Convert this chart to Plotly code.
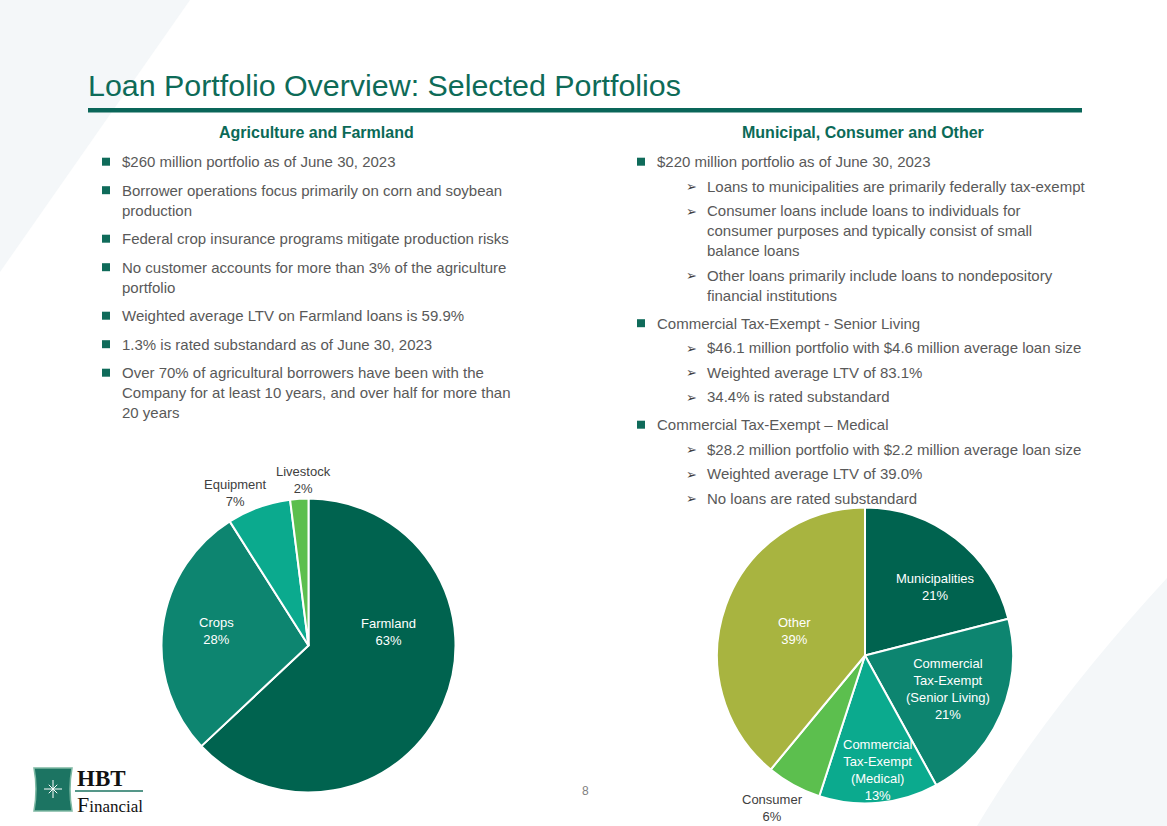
import plotly.graph_objects as go
import math

W, H = 1167, 826

# ---------------- data ----------------
title_text = "Loan Portfolio Overview: Selected Portfolios"

ag_heading = "Agriculture and Farmland"
ag_bullets = [
    ["$260 million portfolio as of June 30, 2023"],
    ["Borrower operations focus primarily on corn and soybean", "production"],
    ["Federal crop insurance programs mitigate production risks"],
    ["No customer accounts for more than 3% of the agriculture", "portfolio"],
    ["Weighted average LTV on Farmland loans is 59.9%"],
    ["1.3% is rated substandard as of June 30, 2023"],
    ["Over 70% of agricultural borrowers have been with the",
     "Company for at least 10 years, and over half for more than", "20 years"],
]

mun_heading = "Municipal, Consumer and Other"
mun_levels = [1, 2, 2, 2, 1, 2, 2, 2, 1, 2, 2, 2]
mun_bullets = [
    ["$220 million portfolio as of June 30, 2023"],
    ["Loans to municipalities are primarily federally tax-exempt"],
    ["Consumer loans include loans to individuals for",
     "consumer purposes and typically consist of small", "balance loans"],
    ["Other loans primarily include loans to nondepository", "financial institutions"],
    ["Commercial Tax-Exempt - Senior Living"],
    ["$46.1 million portfolio with $4.6 million average loan size"],
    ["Weighted average LTV of 83.1%"],
    ["34.4% is rated substandard"],
    ["Commercial Tax-Exempt \u2013 Medical"],
    ["$28.2 million portfolio with $2.2 million average loan size"],
    ["Weighted average LTV of 39.0%"],
    ["No loans are rated substandard"],
]

ag_labels = ["Farmland", "Crops", "Equipment", "Livestock"]
ag_values = [63, 28, 7, 2]
ag_colors = ["#00634F", "#0D8570", "#0BAA8E", "#5CBF4E"]

mun_labels = ["Municipalities", "Commercial<br>Tax-Exempt<br>(Senior Living)",
              "Commercial<br>Tax-Exempt<br>(Medical)", "Consumer", "Other"]
mun_values = [21, 21, 13, 6, 39]
mun_colors = ["#00634F", "#0D8570", "#0BAA8E", "#5CBF4E", "#A8B440"]

page_number = "8"

# ---------------- layout helpers ----------------
def px(x):
    return x / W

def py(y):
    return 1 - y / H

FONT = "Arial, Liberation Sans, Helvetica, sans-serif"
TEAL = "#0B6A57"
GRAY = "#595959"

fig = go.Figure()
shapes = []
annotations = []

def add_line(text, x, y, size=15, color=GRAY, anchor="left"):
    annotations.append(dict(text=text, x=px(x), y=py(y), xref="paper", yref="paper",
                            xanchor=anchor, yanchor="middle", showarrow=False,
                            font=dict(family=FONT, size=size, color=color)))

# label placement (pixel centres) and colour per slice: inside labels white, outside dark grey
ag_label_pos = [(388, 631.5, "white"), (216, 631, "white"), (235, 493, "#404040"), (303, 480, "#404040")]
mun_label_pos = [(935, 586.5, "white"), (948, 689, "white"), (877, 770, "white"),
                 (772, 807.5, "#404040"), (794, 631, "white")]

def add_pie(labels, values, colors, label_pos, cx, cy, r):
    fig.add_trace(go.Pie(
        labels=[l.replace("<br>", " ") for l in labels],
        values=values,
        textinfo="none",
        marker=dict(colors=colors, line=dict(color="white", width=2)),
        sort=False,
        direction="clockwise",
        rotation=0,
        showlegend=False,
        hoverinfo="label+percent",
        domain=dict(x=[px(cx - r), px(cx + r)], y=[py(cy + r), py(cy - r)]),
    ))
    total = sum(values)
    for l, v, (lx, ly, c) in zip(labels, values, label_pos):
        pct = round(100 * v / total)
        add_line(f"{l}<br>{pct}%", lx, ly, size=13, color=c, anchor="center")

add_pie(ag_labels, ag_values, ag_colors, ag_label_pos, 308.5, 645.5, 147)
add_pie(mun_labels, mun_values, mun_colors, mun_label_pos, 865, 655.5, 148)

# background decorations
shapes.append(dict(type="path", xref="paper", yref="paper",
                   path=f"M {px(0)},{py(0)} L {px(190)},{py(0)} L {px(0)},{py(272)} Z",
                   fillcolor="#F4F7F9", line=dict(width=0), layer="below"))
shapes.append(dict(type="path", xref="paper", yref="paper",
                   path=(f"M {px(1167)},{py(578)} L {px(1147)},{py(600)} "
                         f"Q {px(1040)},{py(720)} {px(977)},{py(826)} "
                         f"L {px(1167)},{py(826)} Z"),
                   fillcolor="#F4F7F9", line=dict(width=0), layer="below"))

# title + rule
annotations.append(dict(text=title_text, x=px(86), y=py(85), xref="paper", yref="paper",
                        xanchor="left", yanchor="middle", showarrow=False,
                        font=dict(family=FONT, size=30.4, color="#0E6B58")))
shapes.append(dict(type="rect", xref="paper", yref="paper",
                   x0=px(88), x1=px(1082), y0=py(108), y1=py(112.5),
                   fillcolor="#0A6659", line=dict(width=0)))

# column headings
annotations.append(dict(text=f"<b>{ag_heading}</b>", x=px(316), y=py(132), xref="paper", yref="paper",
                        xanchor="center", yanchor="middle", showarrow=False,
                        font=dict(family=FONT, size=16, color=TEAL)))
annotations.append(dict(text=f"<b>{mun_heading}</b>", x=px(863), y=py(132), xref="paper", yref="paper",
                        xanchor="center", yanchor="middle", showarrow=False,
                        font=dict(family=FONT, size=16, color=TEAL)))

def add_square(x, y):
    s = 4
    shapes.append(dict(type="rect", xref="paper", yref="paper",
                       x0=px(x - s), x1=px(x + s), y0=py(y + s), y1=py(y - s),
                       fillcolor="#0F6B5A", line=dict(width=0)))

# left column
y = 161.7
for i, lines in enumerate(ag_bullets):
    if i > 0:
        y += 28.5
    add_square(106, y)
    for j, ln in enumerate(lines):
        if j > 0:
            y += 20
        add_line(ln, 120, y)

# right column
y = 161.7
for i, (lvl, lines) in enumerate(zip(mun_levels, mun_bullets)):
    if i > 0:
        y += 28 if lvl == 1 else 24.5
    if lvl == 1:
        add_square(641, y)
        tx = 655
    else:
        add_line("\u27A2", 691, y + 0.5, size=13, color="#404040", anchor="center")
        tx = 705
    for j, ln in enumerate(lines):
        if j > 0:
            y += 20
        add_line(ln, tx, y)

# page number
add_line(page_number, 585, 791, size=12, color="#7F7F7F", anchor="center")

# logo
shapes.append(dict(type="path", xref="paper", yref="paper",
                   path=(f"M {px(34)},{py(768)} L {px(72)},{py(768)} "
                         f"Q {px(68)},{py(789)} {px(72)},{py(811)} "
                         f"L {px(34)},{py(811)} Q {px(38)},{py(789)} {px(34)},{py(768)} Z"),
                   fillcolor="#1C7462", line=dict(color="#7DB8A3", width=1.5)))
for k in range(8):
    a = k * math.pi / 4
    L = 9 if k % 2 == 0 else 6
    shapes.append(dict(type="line", xref="paper", yref="paper",
                       x0=px(53), y0=py(789), x1=px(53 + L * math.cos(a)), y1=py(789 - L * math.sin(a)),
                       line=dict(color="white", width=1)))
shapes.append(dict(type="line", xref="paper", yref="paper",
                   x0=px(75), x1=px(143), y0=py(791), y1=py(791),
                   line=dict(color="#1C7462", width=1.5)))
annotations.append(dict(text="<b>HBT</b>", x=px(75), y=py(778), xref="paper", yref="paper",
                        xanchor="left", yanchor="middle", showarrow=False,
                        font=dict(family="Liberation Serif, DejaVu Serif, serif", size=23, color="#111111")))
annotations.append(dict(text="<span style='font-size:22px'>F</span>inancial", x=px(75), y=py(804),
                        xref="paper", yref="paper", xanchor="left", yanchor="middle", showarrow=False,
                        font=dict(family="Liberation Serif, DejaVu Serif, serif", size=17, color="#111111")))

fig.update_layout(
    width=W, height=H, autosize=False,
    margin=dict(l=0, r=0, t=0, b=0),
    paper_bgcolor="white", plot_bgcolor="white",
    font=dict(family=FONT),
    shapes=shapes, annotations=annotations,
    showlegend=False,
)

fig.write_html("out.html")
